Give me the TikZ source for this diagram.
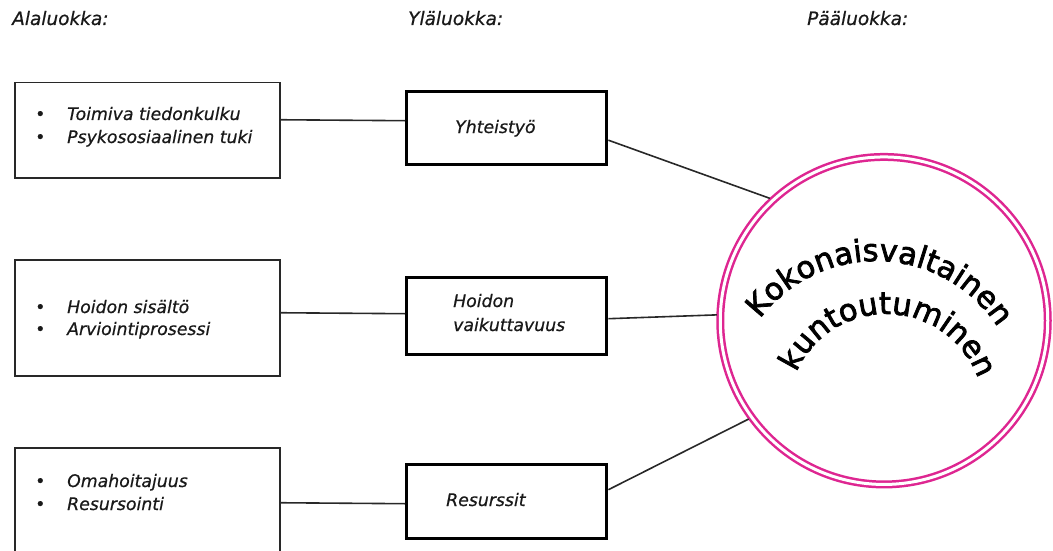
\documentclass[tikz,border=0pt]{standalone}
\usepackage{fontspec}
\setmainfont{DejaVu Sans}
\newfontfamily\circfam[FakeBold=2.5]{DejaVu Sans}
\newfontfamily\txtfam[FakeBold=0.6]{DejaVu Sans}
\usetikzlibrary{decorations.text,calc}
\definecolor{pinkc}{RGB}{222,38,145}
\definecolor{edgec}{RGB}{40,40,40}
\newcommand{\txtsize}{\txtfam\fontsize{17.3}{20}\selectfont}
\newcommand{\circfont}{\circfam\fontsize{30.5}{36}\selectfont}
\newcommand{\bul}{\makebox[32pt][l]{\upshape\textbullet}}
\tikzset{
  lbox/.style={draw=edgec, line width=1.5pt, rectangle, anchor=north west, minimum width=265pt, inner sep=0pt},
  mbox/.style={draw=black, line width=3.4pt, rectangle, anchor=north west, minimum width=200pt, inner sep=0pt},
  txt/.style={anchor=base west, inner sep=0pt, font=\txtsize\itshape, text=black!90},
  hdr/.style={anchor=base west, inner sep=0pt, font=\txtfam\fontsize{18.5}{20}\selectfont\itshape, text=black!90},
  conn/.style={draw=edgec, line width=1.6pt},
  ring/.style={circle, draw=pinkc, line width=2.5pt, double=white, double distance=3pt, minimum size=327.5pt, inner sep=0pt, outer sep=3.5pt}
}
\begin{document}
\begin{tikzpicture}[x=1pt,y=1pt]
\useasboundingbox (0,0) rectangle (1053,-551);
% headers
\node[hdr] (h1) at (12,-25) {Alaluokka:};
\node[hdr] (h2) at (408,-25) {Yläluokka:};
\node[hdr] (h3) at (807,-25) {Pääluokka:};
% left boxes
\node[lbox, minimum height=95pt] (b1) at (14,-82) {};
\node[lbox, minimum height=116pt] (b2) at (14,-259) {};
\node[lbox, minimum height=106pt] (b3) at (14,-447) {};
\node[txt] (t11) at (35,-120) {\bul Toimiva tiedonkulku};
\node[txt] (t12) at (35,-143) {\bul Psykososiaalinen tuki};
\node[txt] (t21) at (35,-313) {\bul Hoidon sisältö};
\node[txt] (t22) at (35,-335) {\bul Arviointiprosessi};
\node[txt] (t31) at (35,-487) {\bul Omahoitajuus};
\node[txt] (t32) at (35,-510) {\bul Resursointi};
% middle boxes
\node[mbox, minimum height=73pt] (y1) at (405,-90) {};
\node[mbox, minimum height=77pt] (hv) at (405,-276) {};
\node[mbox, minimum height=74pt] (rs) at (405,-463) {};
\node[txt] (ty) at (455,-133) {Yhteistyö};
\node[txt] (th1) at (453,-307) {Hoidon};
\node[txt] (th2) at (453,-331) {vaikuttavuus};
\node[txt] (tr) at (446,-506) {Resurssit};
% ring
\node[ring] (kk) at (884,-320.7) {};
% connectors
\draw[conn] ([yshift=10.5pt]b1.east) -- ([yshift=7.5pt]y1.west);
\draw[conn] ([yshift=5pt]b2.east) -- ([yshift=2.5pt]hv.west);
\draw[conn] ([yshift=-2pt]b3.east) -- ([yshift=-2pt]rs.west);
\draw[conn] ([yshift=-12pt]y1.east) -- (kk.133);
\draw[conn] ([yshift=-2.5pt]hv.east) -- (kk.178.7);
\draw[conn] ([yshift=12pt]rs.east) -- (kk.216);
% curved text
\path[decorate, decoration={text along path, text align=center,
  text={|\circfont|Kokonaisvaltainen}}]
  ($(876,-406)+(160:145)$) arc[start angle=160, end angle=16, radius=145];
\path[decorate, decoration={text along path, text align=center,
  text={|\circfont|kuntoutuminen}}]
  ($(886,-412)+(172:98)$) arc[start angle=172, end angle=4, radius=98];
\end{tikzpicture}
\end{document}
